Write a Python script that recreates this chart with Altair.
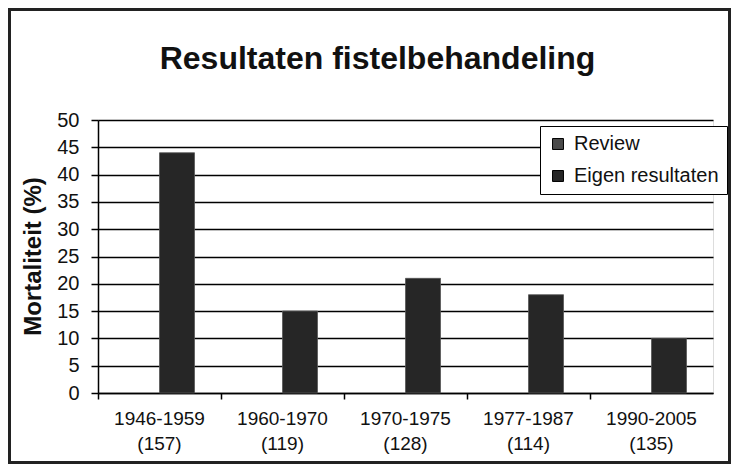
import altair as alt
import pandas as pd

periods = ["1946-1959", "1960-1970", "1970-1975", "1977-1987", "1990-2005"]
patients = [157, 119, 128, 114, 135]
series = ["Review", "Eigen resultaten"]
review = [None, None, None, None, None]
eigen = [44, 15, 21, 18, 10]

cats = [f"{p} ({n})" for p, n in zip(periods, patients)]
rows = []
for c, r, e in zip(cats, review, eigen):
    rows.append({"cat": c, "series": series[0], "value": r})
    rows.append({"cat": c, "series": series[1], "value": e})
df = pd.DataFrame(rows)

FONT = "Liberation Sans"

bars = alt.Chart(df).mark_bar(stroke="#555555", strokeWidth=0.8).encode(
    x=alt.X("cat:N", sort=cats,
            scale=alt.Scale(paddingInner=0, paddingOuter=0),
            axis=alt.Axis(title=None, labelAngle=0, labelExpr="split(datum.label, ' ')",
                          labelFontSize=19, labelLineHeight=25, labelFont=FONT,
                          labelColor="#111111", tickSize=6, tickColor="#000000",
                          tickWidth=1.5, domainColor="#000000", domainWidth=1.5,
                          bandPosition=0, labelPadding=10)),
    xOffset=alt.XOffset("series:N", sort=series,
                        scale=alt.Scale(domain=series, paddingInner=0, paddingOuter=0.757)),
    y=alt.Y("value:Q", scale=alt.Scale(domain=[0, 50], nice=False),
            axis=alt.Axis(title="Mortaliteit (%)", values=list(range(0, 55, 5)),
                          labelFontSize=20, labelFont=FONT, labelColor="#111111",
                          tickSize=7, tickColor="#000000", tickWidth=1.5,
                          domainColor="#000000", domainWidth=1.5,
                          grid=True, gridColor="#000000", gridWidth=1.4, gridOpacity=1,
                          labelPadding=12,
                          titleFontSize=24, titleFont=FONT, titleFontWeight="bold",
                          titleColor="#111111", titleAngle=270, titleX=-65, titleY=136,
                          titleAlign="center", titleBaseline="middle")),
    color=alt.Color("series:N", sort=series,
                    scale=alt.Scale(domain=series, range=["#4a4a4a", "#262626"]),
                    legend=alt.Legend(title=None, orient="none", legendX=442, legendY=6,
                                      labelFontSize=20, labelFont=FONT, labelColor="#111111",
                                      symbolType="square", symbolSize=120,
                                      symbolStrokeColor="#000000", symbolStrokeWidth=1,
                                      rowPadding=12, padding=8, strokeColor="#000000",
                                      fillColor="#ffffff", labelOffset=6)),
)

frame = alt.Chart(pd.DataFrame({"f": [0]})).mark_rect(
    fillOpacity=0, stroke="#222222", strokeWidth=3
).encode(
    x=alt.value(-88.5), x2=alt.value(631.5), y=alt.value(-110.5), y2=alt.value(342.5)
)

chart = alt.layer(bars, frame).properties(
    width=615, height=273,
    title=alt.TitleParams(text="Resultaten fistelbehandeling", fontSize=32, font=FONT,
                          fontWeight="bold", anchor="middle", dx=-28, offset=-68,
                          color="#111111"),
    autosize=alt.AutoSizeParams(type="none"),
    padding={"left": 90, "top": 112, "right": 18, "bottom": 71},
).configure_view(strokeWidth=0).configure(background="#ffffff")

chart.save("out.html", embed_options={"renderer": "svg", "actions": False})
